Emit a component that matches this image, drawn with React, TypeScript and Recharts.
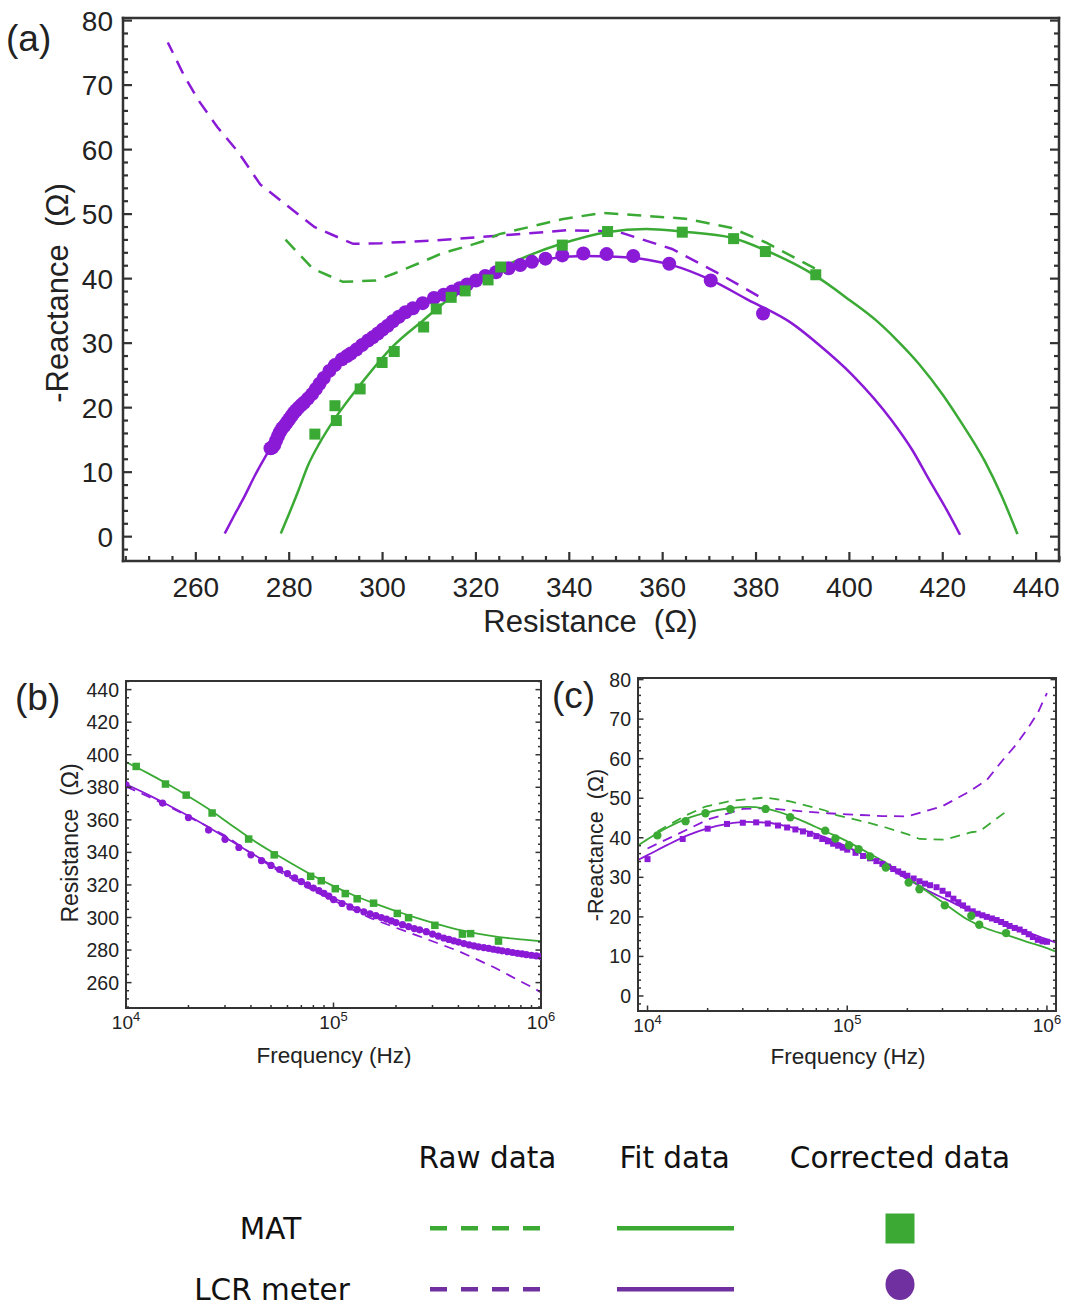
import React from 'react';
import { ComposedChart, Line, Scatter, XAxis, YAxis } from 'recharts';

// Colours
const GREEN = '#3aaa35';
const PURPLE = '#8a1ad6';
const LEG_GREEN = '#3ba934';
const LEG_PURPLE = '#7030a0';
const FRAME = '#333333';
const INK = '#222222';
const FONT = '"Liberation Sans", Arial, sans-serif';
const LEG_FONT = '"DejaVu Sans", "Liberation Sans", sans-serif';

// ---------- MAT: corrected points (squares in a/b, circles in c) ----------
const matFreq = [11200, 15500, 19500, 26000, 39000, 51800, 77600, 87300, 102000, 114000, 130000, 156000, 203000, 230000, 308000, 418000, 458000, 624000];
const matR = [392.8, 382.0, 375.2, 364.2, 348.2, 338.5, 325.3, 322.6, 317.7, 314.7, 311.5, 308.8, 302.5, 299.9, 295.2, 289.8, 290.1, 285.5];
const matX = [40.6, 44.2, 46.2, 47.2, 47.3, 45.2, 41.8, 39.8, 38.1, 37.1, 35.3, 32.5, 28.7, 27.0, 22.9, 20.3, 18.0, 15.9];

// MAT raw (dashed green)
const matRawR = [392.6, 382.1, 374.6, 364.8, 347.1, 338.4, 325.0, 321.5, 318.0, 315.0, 312.0, 308.5, 302.5, 298.5, 291.5, 285.5, 285.0, 278.5];
const matRawX = [41.6, 45.6, 47.9, 49.3, 50.2, 49.2, 46.9, 45.8, 45.0, 44.4, 43.7, 42.6, 40.8, 39.7, 39.5, 41.4, 41.6, 46.6];

// ---------- LCR meter: corrected points (circles in a/b, squares in c) ----------
const lcrFreq = [
  10000, 15000, 20000, 25000, 30000, 35000, 40000, 45000, 50000, 55000,
  60000, 65000, 70000, 75000, 80000, 85000, 90000, 95000, 100000, 110000,
  120000, 130000, 140000, 150000, 160000, 170000, 180000, 190000, 200000, 215000,
  230000, 245000, 260000, 280000, 300000, 320000, 340000, 360000, 380000, 400000,
  425000, 450000, 475000, 500000, 530000, 560000, 590000, 620000, 650000, 690000,
  730000, 770000, 810000, 850000, 900000, 950000, 1000000,
];
const lcrR = [
  381.5, 370.3, 361.4, 353.7, 348.0, 343.0, 338.5, 334.9, 332.0, 329.5,
  327.0, 324.3, 322.0, 320.0, 318.1, 316.5, 314.9, 313.1, 311.0, 308.6,
  306.5, 304.9, 303.5, 302.2, 301.1, 300.0, 299.0, 297.9, 296.9, 295.6,
  294.4, 293.2, 292.4, 291.3, 289.8, 288.6, 287.4, 286.5, 285.7, 284.9,
  284.0, 283.2, 282.6, 282.0, 281.5, 281.0, 280.5, 280.0, 279.5, 279.0,
  278.5, 278.0, 277.6, 277.2, 276.8, 276.4, 276.0,
];
const lcrX = [
  34.6, 39.7, 42.3, 43.5, 43.8, 43.9, 43.6, 43.1, 42.6, 42.1,
  41.6, 41.0, 40.4, 39.7, 39.1, 38.5, 38.0, 37.5, 37.0, 36.2,
  35.4, 34.8, 34.1, 33.4, 32.7, 32.1, 31.5, 30.9, 30.4, 29.7,
  29.0, 28.4, 28.0, 27.5, 26.6, 25.7, 24.6, 23.7, 22.9, 22.1,
  21.4, 20.8, 20.4, 20.0, 19.6, 19.2, 18.7, 18.2, 17.7, 17.2,
  16.8, 16.2, 15.6, 14.9, 14.2, 13.8, 13.7,
];

// LCR raw (dashed purple)
const lcrRawFreq = [10000, 14000, 20000, 30000, 40000, 56000, 80000, 100000, 150000, 200000, 250000, 300000, 400000, 500000, 600000, 700000, 800000, 900000, 1000000];
const lcrRawR = [380.5, 372.0, 362.0, 350.3, 339.5, 327.5, 316.5, 310.5, 299.7, 293.7, 289.2, 285.4, 279.4, 273.8, 269.1, 264.6, 260.6, 257.4, 254.0];
const lcrRawX = [37.3, 40.8, 44.6, 47.3, 47.5, 46.8, 46.2, 45.9, 45.5, 45.4, 46.8, 48.0, 51.4, 54.6, 59.6, 63.5, 67.6, 71.6, 76.6];

// ---------- Fit curves in the Nyquist plot (a) ----------
const matFitAR = [278.2, 280.0, 282.0, 284.0, 286.5, 289.6, 295.5, 302.2, 308.8, 314.5, 320.0, 325.2, 331.0, 338.3, 348.0, 356.5, 364.0, 375.0, 382.0, 392.6, 400.0, 405.6, 410.0, 415.0, 420.0, 423.6, 429.0, 432.5, 436.0];
const matFitAX = [0.5, 3.6, 7.2, 11.0, 14.5, 18.1, 23.8, 29.5, 33.6, 37.0, 39.5, 41.6, 43.5, 45.4, 47.2, 47.7, 47.3, 46.3, 44.4, 40.5, 36.7, 33.6, 30.6, 26.7, 22.0, 18.1, 11.7, 6.5, 0.4];
const lcrFitAR = [266.2, 268.3, 270.4, 272.6, 274.9, 278.0, 282.0, 287.0, 292.0, 298.0, 305.0, 312.0, 320.0, 328.0, 335.0, 343.0, 350.0, 357.0, 362.0, 370.3, 378.3, 387.6, 393.4, 400.6, 409.2, 413.5, 417.1, 420.5, 423.7];
const lcrFitAX = [0.5, 3.4, 6.2, 9.4, 12.4, 16.0, 20.0, 24.3, 27.5, 30.1, 34.0, 37.2, 39.8, 41.7, 43.0, 43.5, 43.4, 42.9, 42.1, 39.8, 36.7, 33.1, 29.8, 25.1, 17.9, 13.4, 8.8, 4.6, 0.3];

// ---------- Fit curves vs frequency (b), (c) ----------
const fitFreqB = [10000, 12589, 15849, 19953, 25119, 31623, 39811, 50119, 63096, 79433, 100000, 125893, 158489, 199526, 251189, 316228, 398107, 501187, 630957, 794328, 1000000];
const matFitR = [395.5, 389.0, 382.0, 374.5, 366.5, 357.5, 348.5, 340.5, 333.0, 325.8, 319.3, 313.5, 308.5, 304.0, 299.8, 296.0, 292.5, 290.0, 288.0, 286.6, 285.5];
const lcrFitR = [381.8, 375.8, 369.3, 362.5, 355.3, 347.5, 339.8, 332.3, 325.3, 318.5, 312.0, 306.2, 301.0, 296.5, 292.5, 288.8, 285.5, 282.5, 280.0, 277.8, 276.0];

const fitFreqC = [8960, 10000, 12589, 15849, 19953, 25119, 31623, 39811, 50119, 63096, 79433, 100000, 125893, 158489, 199526, 251189, 316228, 398107, 501187, 630957, 794328, 1000000, 1110000];
const matFitX = [38.0, 39.6, 42.6, 44.9, 46.4, 47.4, 47.8, 47.3, 45.8, 43.7, 41.4, 39.1, 36.3, 33.5, 30.1, 26.4, 22.9, 19.4, 17.0, 15.4, 13.7, 12.1, 11.2];
const lcrFitX = [34.4, 35.6, 38.2, 40.6, 42.4, 43.5, 44.0, 43.8, 42.9, 41.6, 39.9, 37.7, 35.2, 32.6, 29.6, 26.7, 24.3, 21.9, 20.0, 18.0, 16.2, 14.3, 13.5];

// ---------- Axis ticks ----------
const resMajor = [260, 280, 300, 320, 340, 360, 380, 400, 420, 440];
const reactMajor = [0, 10, 20, 30, 40, 50, 60, 70, 80];
const freqMajor = [10000, 100000, 1000000];
const freqMinor = [20000, 30000, 40000, 50000, 60000, 70000, 80000, 90000, 200000, 300000, 400000, 500000, 600000, 700000, 800000, 900000];

const steps = (from: number, to: number, step: number) => {
  const out: number[] = [];
  for (let v = from; v <= to + 1e-9; v += step) out.push(Math.round(v * 100) / 100);
  return out;
};
const resTicks = steps(245, 445, 5);
const reactTicks = steps(-2, 80, 2);
const freqTicks = [...freqMajor, ...freqMinor].sort((a, b) => a - b);

const zip = (xs: number[], ys: number[]) => xs.map((x, i) => ({ x, y: ys[i] }));

type Side = 'bottom' | 'top' | 'left' | 'right';
interface TickOpts {
  side: Side;
  majors: number[];
  major: number;
  minor: number;
  sw: number;
  label?: (v: number) => React.ReactNode;
  offset?: number;
  fontSize?: number;
}

const isMajor = (v: number, arr: number[]) => arr.some((m) => Math.abs(m - v) <= Math.abs(m) * 1e-6 + 1e-9);

function makeTick(o: TickOpts) {
  return (p: any) => {
    const x = Number(p.x);
    const y = Number(p.y);
    const v = Number(p.payload.value);
    const big = isMajor(v, o.majors);
    const len = big ? o.major : o.minor;
    let x2 = x;
    let y2 = y;
    if (o.side === 'bottom') y2 = y - len;
    if (o.side === 'top') y2 = y + len;
    if (o.side === 'left') x2 = x + len;
    if (o.side === 'right') x2 = x - len;
    let text: React.ReactNode = null;
    const fs = o.fontSize ?? 16;
    if (big && o.label && o.side === 'bottom') {
      text = (
        <text x={x} y={y + (o.offset ?? 20)} textAnchor="middle" fontSize={fs} fontFamily={FONT} fill={INK}>
          {o.label(v)}
        </text>
      );
    }
    if (big && o.label && o.side === 'left') {
      text = (
        <text x={x - (o.offset ?? 8)} y={y + fs * 0.36} textAnchor="end" fontSize={fs} fontFamily={FONT} fill={INK}>
          {o.label(v)}
        </text>
      );
    }
    return (
      <g>
        <line x1={x} y1={y} x2={x2} y2={y2} stroke={FRAME} strokeWidth={o.sw} />
        {text}
      </g>
    );
  };
}

const plain = (v: number) => String(v);
const pow10 = (v: number) => (
  <>
    <tspan>10</tspan>
    <tspan dy={-8} fontSize={13}>{Math.round(Math.log10(v))}</tspan>
  </>
);

const square = (size: number, fill: string) => (p: any) => (
  <rect x={p.cx - size / 2} y={p.cy - size / 2} width={size} height={size} fill={fill} />
);
const dot = (r: number, fill: string) => (p: any) => <circle cx={p.cx} cy={p.cy} r={r} fill={fill} />;

interface FrameSizes {
  major: number;
  minor: number;
  sw: number;
  frame: number;
  yWidth: number;
  xHeight: number;
  xFont: number;
  yFont: number;
  xOff: number;
  yOff: number;
}

// bottom/left axes carry the labels; top/right (1px thick) close the frame with mirrored ticks
function frameAxes(
  xDomain: [number, number],
  yDomain: [number, number],
  xTicks: number[],
  yTicks: number[],
  xMajors: number[],
  yMajors: number[],
  logX: boolean,
  sizes: FrameSizes,
  xLabel: (v: number) => React.ReactNode,
) {
  const line = { stroke: FRAME, strokeWidth: sizes.frame, strokeLinecap: 'square' as const };
  const common = { tickSize: 0, tickMargin: 0, tickLine: false, interval: 0 as const, allowDataOverflow: true };
  const xScale = logX ? ('log' as const) : ('auto' as const);
  return [
    <XAxis
      key="xb"
      xAxisId="b"
      type="number"
      dataKey="x"
      scale={xScale}
      domain={xDomain}
      ticks={xTicks}
      height={sizes.xHeight}
      axisLine={line}
      tick={makeTick({ side: 'bottom', majors: xMajors, major: sizes.major, minor: sizes.minor, sw: sizes.sw, label: xLabel, offset: sizes.xOff, fontSize: sizes.xFont })}
      {...common}
    />,
    <XAxis
      key="xt"
      xAxisId="t"
      orientation="top"
      type="number"
      scale={xScale}
      domain={xDomain}
      ticks={xTicks}
      height={1}
      axisLine={line}
      tick={makeTick({ side: 'top', majors: xMajors, major: sizes.major, minor: sizes.minor, sw: sizes.sw })}
      {...common}
    />,
    <YAxis
      key="yl"
      yAxisId="l"
      type="number"
      dataKey="y"
      domain={yDomain}
      ticks={yTicks}
      width={sizes.yWidth}
      axisLine={line}
      tick={makeTick({ side: 'left', majors: yMajors, major: sizes.major, minor: sizes.minor, sw: sizes.sw, label: plain, offset: sizes.yOff, fontSize: sizes.yFont })}
      {...common}
    />,
    <YAxis
      key="yr"
      yAxisId="r"
      orientation="right"
      type="number"
      domain={yDomain}
      ticks={yTicks}
      width={1}
      axisLine={line}
      tick={makeTick({ side: 'right', majors: yMajors, major: sizes.major, minor: sizes.minor, sw: sizes.sw })}
      {...common}
    />,
  ];
}

const AX = { xAxisId: 'b', yAxisId: 'l', isAnimationActive: false };

function NyquistChart() {
  return (
    <ComposedChart width={1070} height={660} margin={{ top: 17, right: 10, bottom: 39, left: 0 }}>
      {frameAxes([244.4, 444.9], [-3.77, 80.4], resTicks, reactTicks, resMajor, reactMajor, false,
        { major: 9, minor: 5, sw: 2.2, frame: 2.5, yWidth: 123, xHeight: 60, xFont: 28, yFont: 28, xOff: 35.5, yOff: 10 }, plain)}
      <Line {...AX} data={zip(lcrRawR, lcrRawX)} dataKey="y" type="linear" stroke={PURPLE} strokeWidth={2.5} strokeDasharray="14 9" dot={false} activeDot={false} />
      <Line {...AX} data={zip(matRawR, matRawX)} dataKey="y" type="linear" stroke={GREEN} strokeWidth={2.5} strokeDasharray="14 9" dot={false} activeDot={false} />
      <Line {...AX} data={zip(matFitAR, matFitAX)} dataKey="y" type="monotone" stroke={GREEN} strokeWidth={2.5} dot={false} activeDot={false} />
      <Line {...AX} data={zip(lcrFitAR, lcrFitAX)} dataKey="y" type="monotone" stroke={PURPLE} strokeWidth={2.5} dot={false} activeDot={false} />
      <Scatter {...AX} data={zip(lcrR, lcrX)} dataKey="y" shape={dot(7, PURPLE)} />
      <Scatter {...AX} data={zip(matR, matX)} dataKey="y" shape={square(11, GREEN)} />
    </ComposedChart>
  );
}

const SMALL = { major: 5.5, minor: 3, sw: 1.5, frame: 2, xHeight: 50, xFont: 19, yFont: 19.5, xOff: 21, yOff: 7 };

function ResistanceChart() {
  return (
    <ComposedChart width={560} height={420} margin={{ top: 20, right: 18, bottom: 22, left: 0 }}>
      {frameAxes([10000, 1000000], [244.4, 445.3], freqTicks, resTicks, freqMajor, resMajor, true, { ...SMALL, yWidth: 126 }, pow10)}
      <Line {...AX} data={zip(lcrRawFreq, lcrRawR)} dataKey="y" type="linear" stroke={PURPLE} strokeWidth={1.8} strokeDasharray="10 7" dot={false} activeDot={false} />
      <Line {...AX} data={zip(fitFreqB, matFitR)} dataKey="y" type="monotone" stroke={GREEN} strokeWidth={1.8} dot={false} activeDot={false} />
      <Line {...AX} data={zip(fitFreqB, lcrFitR)} dataKey="y" type="monotone" stroke={PURPLE} strokeWidth={1.8} dot={false} activeDot={false} />
      <Scatter {...AX} data={zip(lcrFreq, lcrR)} dataKey="y" shape={dot(3.6, PURPLE)} />
      <Scatter {...AX} data={zip(matFreq, matR)} dataKey="y" shape={square(7.5, GREEN)} />
    </ComposedChart>
  );
}

function ReactanceChart() {
  return (
    <ComposedChart width={510} height={420} margin={{ top: 17, right: 13, bottom: 19, left: 0 }}>
      {frameAxes([8960, 1110000], [-3.8, 80.4], freqTicks, reactTicks, freqMajor, reactMajor, true, { ...SMALL, yWidth: 78 }, pow10)}
      <Line {...AX} data={zip(lcrRawFreq, lcrRawX)} dataKey="y" type="linear" stroke={PURPLE} strokeWidth={1.8} strokeDasharray="10 7" dot={false} activeDot={false} />
      <Line {...AX} data={zip(matFreq, matRawX)} dataKey="y" type="linear" stroke={GREEN} strokeWidth={1.8} strokeDasharray="10 7" dot={false} activeDot={false} />
      <Line {...AX} data={zip(fitFreqC, lcrFitX)} dataKey="y" type="monotone" stroke={PURPLE} strokeWidth={1.8} dot={false} activeDot={false} />
      <Line {...AX} data={zip(fitFreqC, matFitX)} dataKey="y" type="monotone" stroke={GREEN} strokeWidth={1.8} dot={false} activeDot={false} />
      <Scatter {...AX} data={zip(lcrFreq, lcrX)} dataKey="y" shape={square(6, PURPLE)} />
      <Scatter {...AX} data={zip(matFreq, matX)} dataKey="y" shape={dot(4.2, GREEN)} />
    </ComposedChart>
  );
}

function Overlay() {
  const t = { fontFamily: FONT, fill: INK, style: { whiteSpace: 'pre' as const } };
  const l = { fontFamily: LEG_FONT, fill: '#111', fontSize: 29.5, textAnchor: 'middle' as const };
  return (
    <svg width={1070} height={1310} style={{ position: 'absolute', left: 0, top: 0, pointerEvents: 'none' }}>
      {/* panel letters */}
      <text x={6} y={51} fontSize={37} {...t}>(a)</text>
      <text x={15} y={710} fontSize={37} {...t}>(b)</text>
      <text x={552} y={708} fontSize={37} {...t}>(c)</text>

      {/* axis titles */}
      <text x={590.5} y={632} fontSize={31} textAnchor="middle" {...t}>{'Resistance  (Ω)'}</text>
      <text x={68} y={293} fontSize={31} textAnchor="middle" transform="rotate(-90 68 293)" {...t}>{'-Reactance  (Ω)'}</text>
      <text x={334} y={1063} fontSize={22.5} textAnchor="middle" {...t}>Frequency (Hz)</text>
      <text x={78} y={843} fontSize={23} textAnchor="middle" transform="rotate(-90 78 843)" {...t}>{'Resistance  (Ω)'}</text>
      <text x={848} y={1064} fontSize={22.5} textAnchor="middle" {...t}>Frequency (Hz)</text>
      <text x={603} y={845} fontSize={21.5} textAnchor="middle" transform="rotate(-90 603 845)" {...t}>{'-Reactance  (Ω)'}</text>

      {/* legend table */}
      <text x={487.5} y={1168} {...l}>Raw data</text>
      <text x={674.6} y={1168} {...l}>Fit data</text>
      <text x={900} y={1168} {...l}>Corrected data</text>
      <text x={270.5} y={1239} {...l}>MAT</text>
      <text x={272} y={1300} {...l}>LCR meter</text>

      <line x1={430} y1={1228.3} x2={540} y2={1228.3} stroke={LEG_GREEN} strokeWidth={4.5} strokeDasharray="17 14" />
      <line x1={617} y1={1228.3} x2={734} y2={1228.3} stroke={LEG_GREEN} strokeWidth={4.5} />
      <rect x={885.5} y={1213.5} width={29} height={30} fill={LEG_GREEN} />

      <line x1={430} y1={1289.3} x2={540} y2={1289.3} stroke={LEG_PURPLE} strokeWidth={4.5} strokeDasharray="17 14" />
      <line x1={617} y1={1289.3} x2={734} y2={1289.3} stroke={LEG_PURPLE} strokeWidth={4.5} />
      <ellipse cx={900} cy={1284.5} rx={14.5} ry={15.5} fill={LEG_PURPLE} />
    </svg>
  );
}

export default function App() {
  return (
    <div style={{ position: 'absolute', left: 0, top: 0, width: 1070, height: 1310, background: '#fff' }}>
      <div style={{ position: 'absolute', left: 0, top: 0 }}>
        <NyquistChart />
      </div>
      <div style={{ position: 'absolute', left: 0, top: 660 }}>
        <ResistanceChart />
      </div>
      <div style={{ position: 'absolute', left: 560, top: 660 }}>
        <ReactanceChart />
      </div>
      <Overlay />
    </div>
  );
}
